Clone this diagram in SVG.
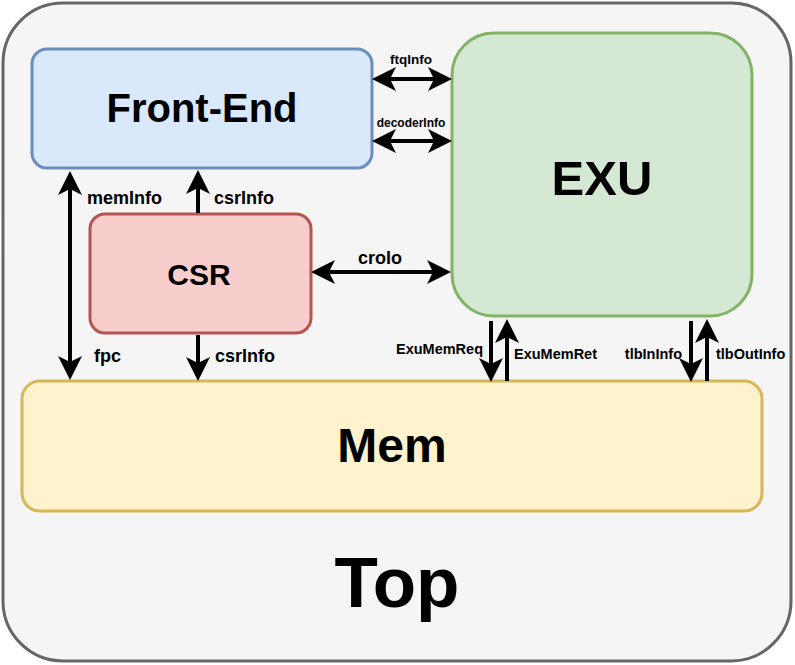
<svg xmlns="http://www.w3.org/2000/svg" width="795" height="665" viewBox="0 0 795 665">
<defs>
<marker id="ah" markerWidth="6" markerHeight="6" refX="5" refY="3" orient="auto-start-reverse" markerUnits="strokeWidth" viewBox="0 0 6 6">
<path d="M0,0 L6,3 L0,6 L1.5,3 Z" fill="#000"/>
</marker>
</defs>
<style>
text{font-family:"Liberation Sans",Arial,sans-serif;font-weight:bold;fill:#000}
.c{stroke:#000;stroke-width:4;fill:none}
.lbl{font-size:18px}
.sm{font-size:14.5px}
</style>
<g id="top">
<rect x="3" y="3" width="788" height="658" rx="60" fill="#f5f5f5" stroke="#666" stroke-width="3"/>
<text x="397" y="607" font-size="71" text-anchor="middle">Top</text>
</g>
<g id="frontend">
<rect x="32" y="49" width="340" height="119" rx="15" fill="#dae8fc" stroke="#6c8ebf" stroke-width="3"/>
<text x="202" y="122" font-size="40" text-anchor="middle">Front-End</text>
</g>
<g id="exu">
<rect x="452" y="33" width="300" height="283" rx="42" fill="#d5e8d4" stroke="#82b366" stroke-width="3"/>
<text x="602" y="195" font-size="49" text-anchor="middle">EXU</text>
</g>
<g id="csr">
<rect x="90" y="214" width="221" height="119" rx="15" fill="#f8cecc" stroke="#b85450" stroke-width="3"/>
<text x="199" y="285" font-size="30" text-anchor="middle">CSR</text>
</g>
<g id="mem">
<rect x="22" y="381" width="740" height="130" rx="18" fill="#fff2cc" stroke="#d6b656" stroke-width="3"/>
<text x="392" y="462" font-size="48" text-anchor="middle">Mem</text>
</g>
<g id="connectors">
<line class="c" x1="376" y1="79" x2="448" y2="79" marker-start="url(#ah)" marker-end="url(#ah)"/>
<text x="411" y="64" font-size="13.5" text-anchor="middle">ftqInfo</text>
<line class="c" x1="376" y1="141" x2="448" y2="141" marker-start="url(#ah)" marker-end="url(#ah)"/>
<text x="411" y="127" font-size="12" text-anchor="middle">decoderInfo</text>
<line class="c" x1="315" y1="272" x2="447" y2="272" marker-start="url(#ah)" marker-end="url(#ah)"/>
<text x="380" y="264" class="lbl" text-anchor="middle">crolo</text>
<line class="c" x1="70" y1="175" x2="70" y2="376" marker-start="url(#ah)" marker-end="url(#ah)"/>
<text x="87" y="204" class="lbl">memInfo</text>
<text x="94" y="362" class="lbl">fpc</text>
<line class="c" x1="198" y1="213" x2="198" y2="174" marker-end="url(#ah)"/>
<text x="214" y="204" class="lbl">csrInfo</text>
<line class="c" x1="198" y1="335" x2="198" y2="377" marker-end="url(#ah)"/>
<text x="215" y="362" class="lbl">csrInfo</text>
<line class="c" x1="491" y1="321" x2="491" y2="378" marker-end="url(#ah)"/>
<text x="483" y="354" class="sm" text-anchor="end">ExuMemReq</text>
<line class="c" x1="507" y1="381" x2="507" y2="323" marker-end="url(#ah)"/>
<text x="514" y="359" class="sm">ExuMemRet</text>
<line class="c" x1="691" y1="321" x2="691" y2="378" marker-end="url(#ah)"/>
<text x="682" y="359" class="sm" text-anchor="end">tlbInInfo</text>
<line class="c" x1="707" y1="381" x2="707" y2="323" marker-end="url(#ah)"/>
<text x="716" y="359" class="sm">tlbOutInfo</text>
</g>
</svg>
